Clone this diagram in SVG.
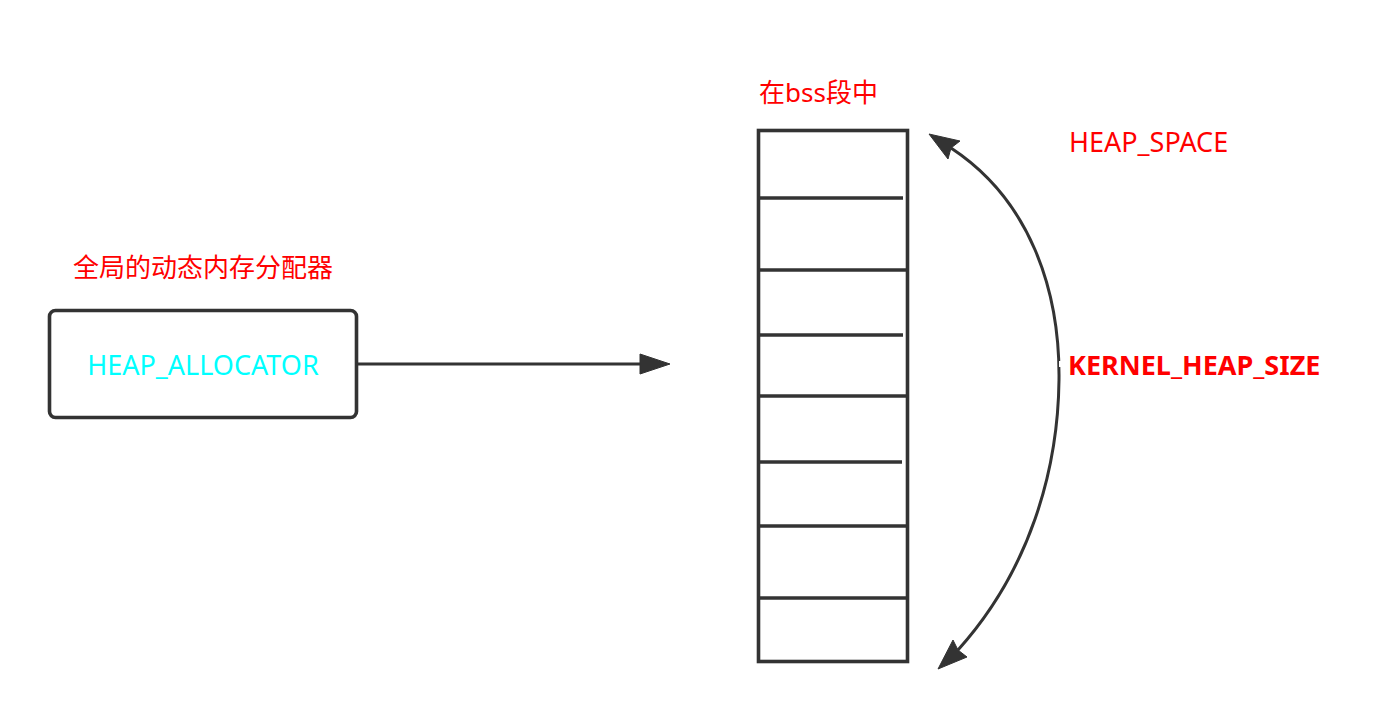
<svg xmlns="http://www.w3.org/2000/svg" width="1382" height="712" viewBox="0 0 1382 712">
<style>
.ln{fill:none;stroke:#333333;stroke-width:3}
.st{stroke-width:3.6}
.ah{fill:#333333;stroke:#333333;stroke-width:1}
.t{font-family:"Noto Sans","Noto Sans CJK SC",sans-serif;font-size:26px}
.lt{font-size:27px}
.red{fill:#FF0000}
</style>
<rect width="1382" height="712" fill="#ffffff"/>
<g id="label-global">
<text class="t red" x="73" y="277">全局的动态内存分配器</text>
</g>
<g id="heap-allocator">
<rect class="ln st" x="49.5" y="310.5" width="307" height="107" rx="6"/>
<text class="t lt" x="203" y="375" text-anchor="middle" fill="#00FFFF">HEAP_ALLOCATOR</text>
</g>
<g id="label-bss">
<text class="t red" x="759" y="102">在bss段中</text>
</g>
<g id="heap-space">
<rect class="ln st" x="758.5" y="130.5" width="149" height="531"/>
<line class="ln st" x1="758" y1="198" x2="903" y2="198"/>
<line class="ln st" x1="758" y1="270" x2="907" y2="270"/>
<line class="ln st" x1="758" y1="335" x2="903" y2="335"/>
<line class="ln st" x1="758" y1="396" x2="907" y2="396"/>
<line class="ln st" x1="758" y1="462" x2="902" y2="462"/>
<line class="ln st" x1="758" y1="526" x2="907" y2="526"/>
<line class="ln st" x1="758" y1="598" x2="907" y2="598"/>
</g>
<g id="label-heap-space">
<text class="t lt red" x="1069" y="152">HEAP_SPACE</text>
</g>
<g id="connectors">
<line class="ln" x1="357" y1="364" x2="642" y2="364"/>
<polygon class="ah" points="670,364 640,354 640,374"/>
<path class="ln" d="M 951 148 C 1030 200, 1060 290, 1059 380 C 1058 470, 1030 570, 958 650"/>
<polygon class="ah" points="929,134 960,141 951,148 948,159"/>
<polygon class="ah" points="938,669 953,640 958,650 967,657"/>
</g>
<g id="label-kernel-heap-size">
<rect x="1059" y="361" width="6" height="6" fill="#ffffff"/>
<text class="t lt red" x="1068" y="375" font-weight="bold">KERNEL_HEAP_SIZE</text>
</g>
</svg>
